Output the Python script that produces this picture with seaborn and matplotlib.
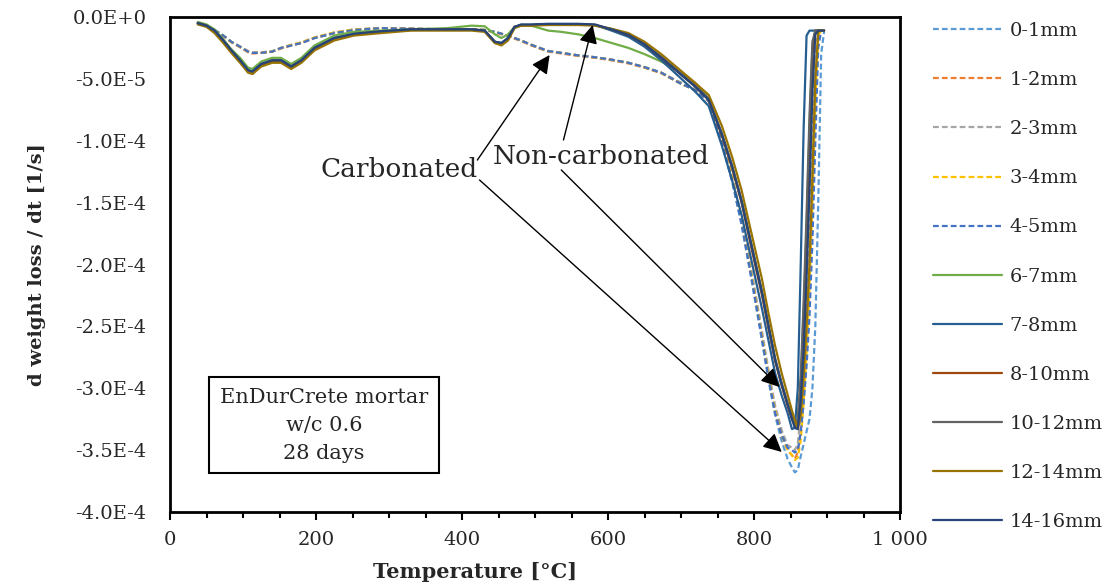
import numpy as np
import pandas as pd
import seaborn as sns
import matplotlib
matplotlib.use("Agg")
import matplotlib.pyplot as plt
from matplotlib.ticker import FuncFormatter, MultipleLocator

# ---------------- data (rate values in units of 1e-6 1/s) ----------------
temperature = [38, 50, 61, 73, 84, 96, 107, 113, 125, 140, 152, 166, 180, 198, 225, 252, 289, 330,
               380, 413, 431, 445, 454, 463, 472, 481, 495, 518, 536, 559, 582, 605, 628, 650, 673,
               697, 719, 738, 756, 770, 783, 797, 811, 820, 829, 838, 846,
               852, 856, 860, 864, 868, 872, 876, 880, 884, 888, 892, 896]

labels = ["0-1mm", "1-2mm", "2-3mm", "3-4mm", "4-5mm", "6-7mm", "7-8mm",
          "8-10mm", "10-12mm", "12-14mm", "14-16mm"]
colors = ["#5B9BD5", "#ED7D31", "#A5A5A5", "#FFC000", "#4472C4", "#70AD47", "#255E91",
          "#9E480E", "#636363", "#997300", "#264478"]
dashed = [True, True, True, True, True, False, False, False, False, False, False]

s_0_1 = [-5, -7, -10.5, -15, -20, -24, -28, -29, -29, -28, -25, -23, -21, -17, -13, -10.5, -9, -9.5,
         -10, -10, -10.5, -12, -13.5, -15, -17, -19, -22.5, -27.5, -29, -31, -32.5, -34.5, -37, -40.5, -45,
         -53, -59, -68, -102, -133, -168, -214, -262, -294, -322, -343, -357,
         -364, -368, -366, -355, -345, -335, -325, -300, -250, -150, -30, -12]
s_1_2 = [-5, -7, -11, -15.5, -20.5, -24.5, -28.5, -29.5, -29, -28, -25.5, -23, -21, -17, -13, -10.5, -9, -9.5,
         -10, -10, -10.5, -12.5, -14, -15.5, -17.5, -19.5, -23, -28, -29.5, -31.5, -33, -35, -37.5, -41, -45.5,
         -53, -59, -68, -100, -130, -165, -210, -258, -290, -318, -338, -350,
         -354, -357, -352, -332, -300, -260, -200, -130, -50, -13, -11, -11]
s_2_3 = [-5, -7, -10.5, -15, -20, -24, -27.5, -28.5, -28.5, -27.5, -25, -22.5, -20.5, -16.5, -12.5, -10, -9, -9.5,
         -10, -10, -10.5, -12, -13.5, -15, -17, -19, -22.5, -27.5, -29, -31, -32.5, -34.5, -37, -40.5, -45,
         -52, -58, -67, -98, -128, -162, -206, -254, -286, -314, -334, -346,
         -348, -350, -345, -320, -280, -230, -160, -80, -20, -11, -11, -11]
s_3_4 = [-5, -7, -10.5, -15, -20, -24, -28, -29, -29, -28, -25, -22.5, -20.5, -16.5, -12.5, -10, -9, -9.5,
         -10, -10, -10.5, -12, -13.5, -15, -17, -19, -22.5, -27.5, -29, -31, -32.5, -34.5, -37, -40.5, -45,
         -53, -59, -68, -100, -130, -165, -210, -258, -290, -318, -338, -350,
         -354, -358, -356, -342, -312, -272, -220, -150, -70, -15, -11, -11]
s_4_5 = [-5, -7, -10.5, -15, -20, -24, -28, -29, -29, -28, -25, -23, -21, -17, -13, -10.5, -9, -9.5,
         -10, -10, -10.5, -12, -13.5, -15, -17, -19, -22.5, -27.5, -29, -31, -32.5, -34.5, -37, -40.5, -45,
         -53, -59, -68, -101, -132, -167, -212, -260, -292, -320, -338, -348,
         -350, -352, -350, -336, -312, -282, -242, -182, -100, -25, -11, -11]
s_6_7 = [-4, -6, -10, -18, -26, -33, -41, -42, -36, -33, -33, -38, -33, -23, -15, -12, -11, -10,
         -9, -7, -7.5, -14, -17, -14, -8, -6.5, -7, -11, -12, -14, -17, -21, -25, -30, -36,
         -44, -53, -66, -95, -121, -149, -186, -223, -251, -277, -297, -313,
         -323, -330, -325, -295, -240, -170, -90, -25, -11, -11, -11, -11]
s_7_8 = [-5, -7, -11, -19, -27, -35, -43, -44, -38, -35, -35, -40, -35, -25, -17, -14, -12, -10,
         -10, -10, -11, -20, -21, -17, -8, -6.5, -6.5, -6, -6, -6, -6.5, -11, -16, -24, -35,
         -48, -60, -72, -104, -132, -160, -198, -236, -262, -288, -306, -320,
         -333, -332, -300, -200, -90, -15, -11, -11, -11, -11, -11, -11]
s_8_10 = [-5, -7, -12, -20, -28, -36, -44, -46, -39, -36, -36, -41, -36, -26, -18, -14, -12, -10.5,
          -10, -10, -11, -20, -22, -18, -8, -7, -6.5, -6, -6, -6, -6.5, -10, -14.5, -22, -33,
          -45, -56, -67, -96, -122, -150, -188, -225, -252, -278, -298, -314,
          -325, -330, -328, -300, -250, -180, -100, -30, -11, -11, -11, -11]
s_10_12 = [-5, -7, -11, -19, -27, -35, -43, -45, -38, -35, -35, -40, -35, -25, -17, -14, -12, -10,
           -10, -10, -11, -21, -22, -17, -8, -6.5, -6.5, -6, -6, -6, -6.5, -10, -14, -22, -32,
           -44, -55, -66, -94, -120, -148, -185, -222, -250, -276, -296, -312,
           -322, -330, -325, -290, -230, -160, -80, -20, -11, -11, -11, -11]
s_12_14 = [-6, -8, -13, -21, -29, -37, -45, -46, -40, -37, -37, -42, -37, -27, -19, -15, -13, -11,
           -11, -11, -12, -21, -23, -19, -9, -7, -7, -6.5, -6.5, -6.5, -7, -9.5, -13, -20, -30,
           -42, -53, -63, -88, -113, -140, -176, -212, -240, -266, -288, -305,
           -318, -326, -333, -322, -292, -250, -200, -130, -50, -12, -11, -11]
s_14_16 = [-5, -7, -11, -19, -27, -35, -43, -44, -38, -35, -35, -40, -35, -25, -17, -13.5, -11.5, -10,
           -10, -10, -11, -20, -21, -17, -8, -6, -6, -5.5, -5.5, -5.5, -6, -10, -14.5, -22, -33,
           -45, -56, -67, -95, -121, -149, -186, -223, -250, -277, -297, -313,
           -325, -332, -333, -310, -270, -210, -140, -60, -14, -11, -11, -11]

series = [s_0_1, s_1_2, s_2_3, s_3_4, s_4_5, s_6_7, s_7_8, s_8_10, s_10_12, s_12_14, s_14_16]

x_ticks = [0, 200, 400, 600, 800, 1000]
y_ticks = [0, -5e-5, -1e-4, -1.5e-4, -2e-4, -2.5e-4, -3e-4, -3.5e-4, -4e-4]

# ---------------- plotting ----------------
sns.set_theme(style="white")
plt.rcParams["font.family"] = ["DejaVu Serif"]
plt.rcParams["axes.unicode_minus"] = False

fig = plt.figure(figsize=(11.14, 5.88), dpi=100)
ax = fig.add_axes([170 / 1114, 1 - 512 / 588, 730 / 1114, 495 / 588])

for lab, col, dsh, vals in zip(labels, colors, dashed, series):
    df = pd.DataFrame({"T": temperature, "rate": np.array(vals) * 1e-6})
    sns.lineplot(data=df, x="T", y="rate", ax=ax, color=col, label=lab, sort=False,
                 linewidth=1.6, linestyle=(0, (2.6, 1.4)) if dsh else "-")

ax.set_xlim(0, 1000)
ax.set_ylim(-4e-4, 0)
ax.set_xticks(x_ticks)
ax.xaxis.set_minor_locator(MultipleLocator(50))
ax.set_yticks(y_ticks)


def yfmt(v, pos):
    if abs(v) < 1e-12:
        return "0.0E+0"
    e = int(np.floor(np.log10(abs(v))))
    m = v / 10 ** e
    return f"{m:.1f}E{e:d}"


ax.yaxis.set_major_formatter(FuncFormatter(yfmt))
ax.xaxis.set_major_formatter(FuncFormatter(lambda v, p: f"{int(v):,}".replace(",", " ")))
ax.tick_params(axis="x", which="major", direction="out", length=6, width=1.5, labelsize=14, pad=8, color="black")
ax.tick_params(axis="x", which="minor", direction="out", length=4, width=1.5, color="black")
ax.tick_params(axis="x", which="both", bottom=True)
ax.tick_params(axis="y", length=0, labelsize=14, pad=17)
for sp in ax.spines.values():
    sp.set_visible(True)
    sp.set_color("black")
    sp.set_linewidth(2)

ax.set_xlabel("Temperature [°C]", fontsize=15, fontweight="bold")
ax.set_ylabel("d weight loss / dt [1/s]", fontsize=14, fontweight="bold")
ax.xaxis.set_label_coords(0.418, -0.121)
ax.yaxis.set_label_coords(-0.182, 0.5)
ax.xaxis.label.set_va("center")
ax.yaxis.label.set_va("center")

# annotations
arrow = dict(arrowstyle="-|>", color="black", lw=1.0, mutation_scale=28, shrinkA=0, shrinkB=0)
ax.text(314, -123.6e-6, "Carbonated", fontsize=19, ha="center", va="center")
ax.text(591, -113e-6, "Non-carbonated", fontsize=19, ha="center", va="center")
ax.annotate("", xy=(520, -30.7e-6), xytext=(421, -115.6e-6), arrowprops=arrow)
ax.annotate("", xy=(838, -351.5e-6), xytext=(424, -131.7e-6), arrowprops=arrow)
ax.annotate("", xy=(579, -6.5e-6), xytext=(539, -99.4e-6), arrowprops=arrow)
ax.annotate("", xy=(835, -299e-6), xytext=(536, -123.6e-6), arrowprops=arrow)

ax.text(211, -330e-6, "EnDurCrete mortar\nw/c 0.6\n28 days", fontsize=15, ha="center", va="center",
        linespacing=1.6,
        bbox=dict(boxstyle="square,pad=0.5", facecolor="white", edgecolor="black", linewidth=1.5))

leg = ax.legend(loc="upper left", bbox_to_anchor=(933 / 1114, 1 - 22 / 588), bbox_transform=fig.transFigure,
                frameon=False, fontsize=14, handlelength=3.55, handletextpad=0.4, labelspacing=1.6,
                borderpad=0, borderaxespad=0)

fig.savefig("out.png", dpi=100, facecolor="white")
